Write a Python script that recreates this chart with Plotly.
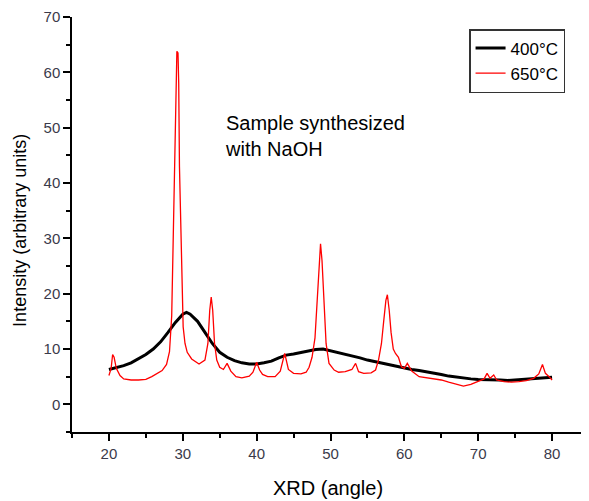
import plotly.graph_objects as go

# 400°C series (black)
x400 = [20, 21, 22, 23, 24, 25, 26, 27, 28, 29, 30, 30.5, 31, 32, 33, 34, 35, 36, 37, 38, 39, 40,
        41, 42, 43, 44, 45, 46, 47, 48, 49, 50, 51, 52, 53, 54, 55, 56, 57, 58, 59, 60,
        61, 62, 63, 64, 65, 66, 67, 68, 69, 70, 71, 72, 73, 74, 75, 76, 77, 78, 79, 80]
y400 = [6.3, 6.6, 7.0, 7.5, 8.2, 9.0, 10.0, 11.3, 13.0, 14.8, 16.3, 16.6, 16.3, 15.0, 13.0, 11.0, 9.4, 8.5, 7.9, 7.5, 7.3, 7.3,
        7.5, 7.8, 8.4, 8.9, 9.1, 9.4, 9.7, 9.9, 10.0, 9.7, 9.4, 9.0, 8.7, 8.4, 8.0, 7.7, 7.4, 7.1, 6.9, 6.6,
        6.3, 6.1, 5.9, 5.7, 5.4, 5.1, 4.9, 4.7, 4.6, 4.5, 4.5, 4.4, 4.4, 4.3, 4.4, 4.5, 4.6, 4.7, 4.8, 4.9]

# 650°C series (red)
x650 = [20.0, 20.3, 20.5, 20.7, 21.0, 21.5, 22.0, 23, 24, 25, 25.8, 26.5, 27.2, 27.8, 28.2, 28.5, 28.7,
        28.9, 29.05, 29.2, 29.35, 29.45, 29.55, 29.7, 29.85, 30.05, 30.3, 30.6, 31.2, 32.2, 33.0, 33.4,
        33.65, 33.85, 34.05, 34.3, 34.6, 35.0, 35.5, 36.0, 36.5, 37.2, 38, 39, 39.5, 40.0, 40.4, 40.8,
        41.5, 42.5, 43.2, 43.8, 44.3, 45, 46, 46.7, 47.1, 47.5, 47.9, 48.2, 48.45, 48.65, 48.85, 49.1,
        49.4, 49.8, 50.5, 51.1, 52.0, 52.9, 53.4, 53.8, 54.5, 55.5, 56.1, 56.5, 56.9, 57.2, 57.5, 57.7,
        57.95, 58.2, 58.5, 58.8, 59.2, 59.6, 60.0, 60.4, 61.0, 62, 63, 64, 65, 66, 67, 68, 69, 70, 70.8,
        71.2, 71.6, 72.1, 72.5, 73.5, 74.5, 75.5, 76.5, 77.5, 78.2, 78.7, 79.1, 79.6, 80.0]
y650 = [5.2, 6.5, 9.0, 8.5, 6.5, 5.2, 4.6, 4.4, 4.4, 4.5, 5.0, 5.6, 6.1, 7.2, 9.5, 16, 30,
        47, 59, 63.8, 63.5, 58, 43, 33, 22, 14, 11, 9.4, 8.2, 7.3, 8.0, 11,
        17, 19.4, 17, 11, 8.0, 6.7, 6.3, 7.4, 6.0, 5.0, 4.8, 5.1, 5.8, 7.6, 6.2, 5.4,
        5.0, 5.0, 6.0, 9.2, 6.3, 5.6, 5.5, 5.8, 6.7, 8.5, 12, 18, 25, 29, 26, 18,
        11, 7.4, 6.2, 5.8, 5.9, 6.3, 7.4, 5.9, 5.6, 5.7, 6.2, 8, 11, 15, 18.8, 19.8,
        17, 13, 10, 9.2, 8.5, 6.8, 6.5, 7.4, 6.0, 5.0, 4.8, 4.6, 4.4, 4.0, 3.6, 3.3, 3.6, 4.2, 4.6,
        5.6, 4.7, 5.3, 4.4, 4.1, 4.0, 4.1, 4.3, 4.7, 5.5, 7.2, 5.6, 5.0, 4.4]

x_ticks = [20, 30, 40, 50, 60, 70, 80]
y_ticks = [0, 10, 20, 30, 40, 50, 60, 70]

fig = go.Figure()
fig.add_trace(go.Scatter(x=x400, y=y400, mode="lines", name="400°C",
                         line=dict(color="black", width=3)))
fig.add_trace(go.Scatter(x=x650, y=y650, mode="lines", name="650°C",
                         line=dict(color="red", width=1.3)))

axis_common = dict(showline=True, linecolor="black", linewidth=1.5, ticks="outside",
                   ticklen=7, tickwidth=1.5, tickcolor="black", showgrid=False, zeroline=False,
                   tickfont=dict(family="Liberation Sans, Arial", size=15, color="#3a3a4a"),
                   minor=dict(ticks="outside", ticklen=4, tickwidth=1.5, tickcolor="black", showgrid=False))

fig.update_xaxes(range=[15, 85], tickvals=x_ticks, minor_dtick=5, **axis_common)
fig.update_yaxes(range=[-5, 70], tickvals=y_ticks, minor_dtick=5, **axis_common)

fig.update_layout(
    width=581, height=493,
    margin=dict(l=64, r=0, t=9, b=69),
    plot_bgcolor="white", paper_bgcolor="white",
    font=dict(family="Liberation Sans, Arial", color="black"),
    legend=dict(x=0.768, y=0.971, xanchor="left", yanchor="top",
                bordercolor="#333333", borderwidth=1.5, bgcolor="white",
                font=dict(size=17, color="black"), tracegroupgap=0),
    annotations=[
        dict(text="XRD (angle)", x=0.495, y=-0.135, xref="paper", yref="paper",
             showarrow=False, font=dict(size=20, color="black"), xanchor="center", yanchor="middle"),
        dict(text="Intensity (arbitrary units)", x=-0.1006, y=0.487, xref="paper", yref="paper",
             showarrow=False, textangle=-90, font=dict(size=18, color="black"),
             xanchor="center", yanchor="middle"),
        dict(text="Sample synthesized<br>with NaOH", x=35.4, y=53.2, xref="x", yref="y",
             showarrow=False, align="left", xanchor="left", yanchor="top",
             font=dict(size=20, color="black")),
    ],
)

fig.write_html("out.html")
